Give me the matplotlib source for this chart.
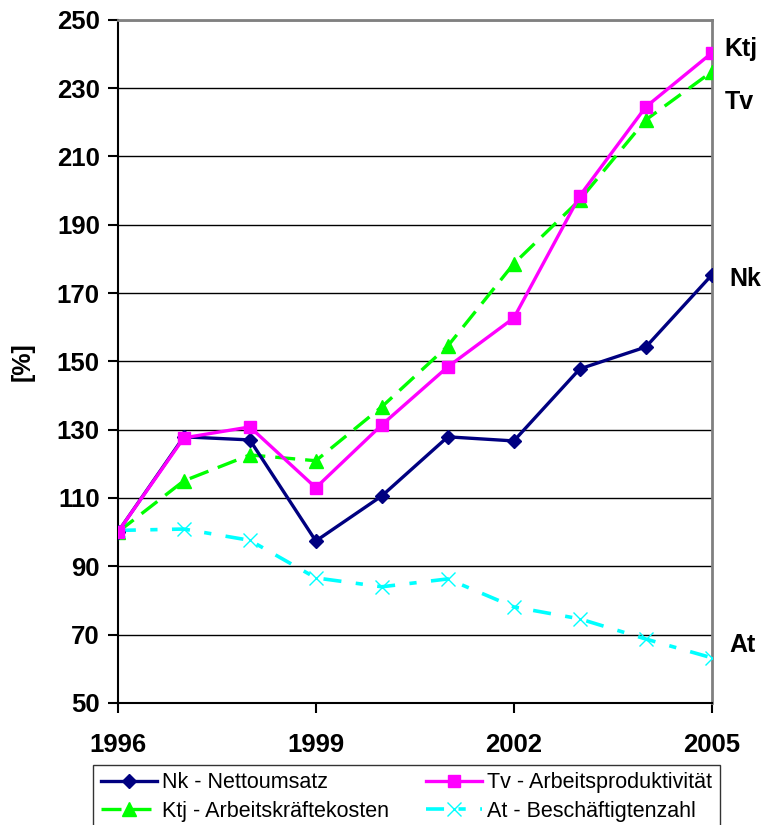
import matplotlib.pyplot as plt

years = [1996, 1997, 1998, 1999, 2000, 2001, 2002, 2003, 2004, 2005]
nk = [100, 127.9, 127.0, 97.4, 110.6, 127.9, 126.7, 147.8, 154.2, 175.3]
tv = [100, 127.6, 130.8, 113.0, 131.4, 148.4, 162.7, 198.5, 224.5, 240.3]
ktj = [100, 115.0, 122.6, 120.9, 136.7, 154.5, 178.6, 197.3, 220.7, 234.8]
at = [100.5, 100.9, 97.6, 86.6, 84.0, 86.3, 78.1, 74.6, 68.7, 63.2]

xticks = [1996, 1999, 2002, 2005]
yticks = list(range(50, 251, 20))

plt.rcParams['font.family'] = ['Liberation Sans', 'DejaVu Sans']

fig = plt.figure(figsize=(7.65, 8.25), dpi=100)
ax = fig.add_axes([0.154, 0.148, 0.7765, 0.828])

l_nk, = ax.plot(years, nk, color='#000080', lw=2.4, marker='D', ms=7,
                label='Nk - Nettoumsatz', zorder=4)
l_tv, = ax.plot(years, tv, color='#FF00FF', lw=2.4, marker='s', ms=9,
                label='Tv - Arbeitsproduktivität', zorder=4)
l_ktj, = ax.plot(years, ktj, color='#00FF00', lw=2.4, marker='^', ms=10,
                 dashes=(6, 3), label='Ktj - Arbeitskräftekosten', zorder=3)
l_at, = ax.plot(years, at, color='#00FFFF', lw=2.6, marker='x', ms=10, mew=1,
                dashes=(5, 4, 2, 4), label='At - Beschäftigtenzahl', zorder=3)

ax.set_xlim(1996, 2005)
ax.set_ylim(50, 250)
ax.set_xticks(xticks)
ax.set_yticks(yticks)
ax.yaxis.grid(True, color='black', lw=1)
ax.set_axisbelow(True)
ax.tick_params(axis='both', direction='out', length=7, width=1.5, labelsize=18.5)
for lab in ax.get_xticklabels() + ax.get_yticklabels():
    lab.set_fontweight('bold')
ax.tick_params(axis='x', pad=15)
ax.tick_params(axis='y', pad=6)

ax.spines['top'].set_color('#808080')
ax.spines['top'].set_linewidth(2)
ax.spines['right'].set_color('#808080')
ax.spines['right'].set_linewidth(2)
ax.spines['left'].set_linewidth(1.5)
ax.spines['bottom'].set_linewidth(1.5)

ax.set_ylabel('[%]', fontsize=18, fontweight='bold', labelpad=16)

# series labels at right end
ax.text(2005.19, 241.5, 'Ktj', fontsize=18, fontweight='bold', va='center', clip_on=False)
ax.text(2005.19, 226, 'Tv', fontsize=18, fontweight='bold', va='center', clip_on=False)
ax.text(2005.27, 174, 'Nk', fontsize=18, fontweight='bold', va='center', clip_on=False)
ax.text(2005.27, 67, 'At', fontsize=18, fontweight='bold', va='center', clip_on=False)

# row-wise order like the original legend
handles = [l_nk, l_ktj, l_tv, l_at]
leg = fig.legend(handles=handles, labels=[h.get_label() for h in handles],
                 loc='lower left', bbox_to_anchor=(0.1216, -0.005, 0.8196, 0.074),
                 mode='expand', ncol=2, fontsize=15.5, handlelength=2.6,
                 frameon=True, fancybox=False, edgecolor='black',
                 borderaxespad=0, borderpad=0.35, labelspacing=0.35,
                 handletextpad=0.25, columnspacing=1.0)
leg.get_frame().set_linewidth(1)

fig.savefig('out.png', dpi=100)
